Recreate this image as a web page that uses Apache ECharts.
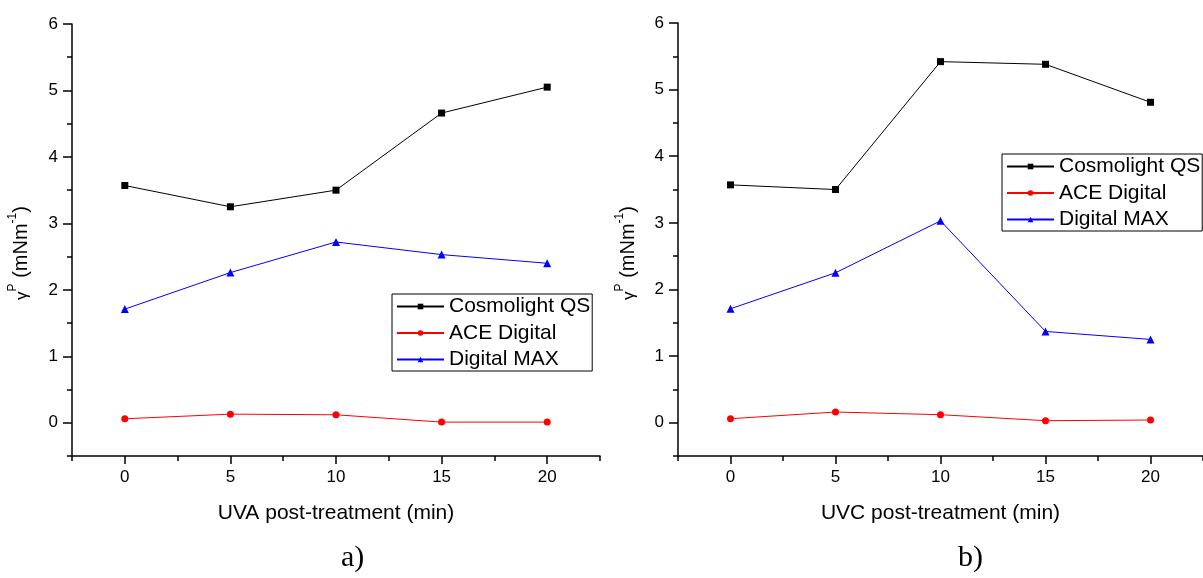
<!DOCTYPE html>
<html>
<head>
<meta charset="utf-8">
<script src="https://cdn.jsdelivr.net/npm/echarts@6/dist/echarts.min.js"></script>
<style>
html,body{margin:0;padding:0;background:#fff;}
#chart{width:1203px;height:578px;}
</style>
</head>
<body>
<div id="chart"></div>
<script>
const times = [0, 5, 10, 15, 20];
const seriesNames = ['Cosmolight QS', 'ACE Digital', 'Digital MAX'];
const uvaCosmolight = [3.57, 3.25, 3.50, 4.66, 5.05];
const uvaAce = [0.06, 0.13, 0.12, 0.01, 0.01];
const uvaDigitalMax = [1.71, 2.26, 2.72, 2.53, 2.40];
const uvcCosmolight = [3.57, 3.50, 5.42, 5.38, 4.81];
const uvcAce = [0.06, 0.16, 0.12, 0.03, 0.04];
const uvcDigitalMax = [1.71, 2.25, 3.03, 1.37, 1.25];
const xMajorTicks = [0, 5, 10, 15, 20];
const xMinorTicks = [-2.5, 2.5, 7.5, 12.5, 17.5, 22.5];
const yMajorTicks = [0, 1, 2, 3, 4, 5, 6];
const yMinorTicks = [-0.5, 0.5, 1.5, 2.5, 3.5, 4.5, 5.5];
const xTitles = ['UVA post-treatment (min)', 'UVC post-treatment (min)'];
const captions = ['a)', 'b)'];

const FONT = '"Liberation Sans", Arial, sans-serif';
const chart = echarts.init(document.getElementById('chart'), null, {renderer: 'canvas'});

const rects = [
  {left: 72, top: 24, width: 528, height: 432},
  {left: 678, top: 23, width: 530, height: 433}
];
// grids 0,1: main axes (line, labels, major ticks); grids 2,3: same rectangles, minor ticks only
const grids = [0, 1, 0, 1].map(i => Object.assign({}, rects[i]));

function xMain(g, title) {
  return {
    type: 'value', gridIndex: g, position: 'bottom', min: -2.5, max: 22.5, interval: 2.5,
    name: title, nameLocation: 'middle', nameGap: 47,
    nameTextStyle: {fontFamily: FONT, fontSize: 21, color: '#000'},
    axisLine: {show: true, onZero: false, lineStyle: {color: '#000', width: 1.5}},
    axisTick: {show: true, inside: false, length: 8, customValues: xMajorTicks, lineStyle: {color: '#000', width: 1.5}},
    axisLabel: {show: true, customValues: xMajorTicks, margin: 13, fontFamily: FONT, fontSize: 17, color: '#000'},
    splitLine: {show: false}
  };
}
function xMinor(g) {
  return {
    type: 'value', gridIndex: g, position: 'bottom', min: -2.5, max: 22.5, interval: 2.5,
    axisLine: {show: false, onZero: false},
    axisTick: {show: true, inside: false, length: 5, customValues: xMinorTicks, lineStyle: {color: '#000', width: 1.5}},
    axisLabel: {show: false},
    splitLine: {show: false}
  };
}
function yMain(g) {
  return {
    type: 'value', gridIndex: g, position: 'left', min: -0.5, max: 6, interval: 0.5,
    axisLine: {show: true, onZero: false, lineStyle: {color: '#000', width: 1.5}},
    axisTick: {show: true, inside: false, length: 9, customValues: yMajorTicks, lineStyle: {color: '#000', width: 1.5}},
    axisLabel: {show: true, customValues: yMajorTicks, margin: 14, fontFamily: FONT, fontSize: 17, color: '#000'},
    splitLine: {show: false}
  };
}
function yMinor(g) {
  return {
    type: 'value', gridIndex: g, position: 'left', min: -0.5, max: 6, interval: 0.5,
    axisLine: {show: false, onZero: false},
    axisTick: {show: true, inside: false, length: 5, customValues: yMinorTicks, lineStyle: {color: '#000', width: 1.5}},
    axisLabel: {show: false},
    splitLine: {show: false}
  };
}

const styles = [
  {color: '#000000', symbol: 'rect', symbolSize: 7},
  {color: '#ff0000', symbol: 'circle', symbolSize: 7},
  {color: '#0000ff', symbol: 'triangle', symbolSize: 8}
];
const panelData = [
  [uvaCosmolight, uvaAce, uvaDigitalMax],
  [uvcCosmolight, uvcAce, uvcDigitalMax]
];

const series = [];
panelData.forEach((panel, p) => {
  panel.forEach((vals, i) => {
    series.push({
      type: 'line', name: seriesNames[i],
      xAxisIndex: p, yAxisIndex: p,
      data: times.map((t, k) => [t, vals[k]]),
      symbol: styles[i].symbol, symbolSize: styles[i].symbolSize, showSymbol: true,
      itemStyle: {color: styles[i].color},
      lineStyle: {color: styles[i].color, width: 1},
      emphasis: {disabled: true},
      animation: false, z: 3 - i
    });
  });
});

function legend(left, top) {
  return {
    orient: 'vertical', left: left, top: top,
    data: seriesNames,
    itemWidth: 47, itemHeight: 7, itemGap: 5.5,
    padding: [2, 2, 1, 4],
    borderColor: '#000', borderWidth: 1, backgroundColor: '#fff',
    textStyle: {fontFamily: FONT, fontSize: 21, color: '#000'},
    selectedMode: false
  };
}

const yTitleRich = {
  g: {fontFamily: FONT, fontSize: 17, fill: '#000', lineHeight: 24, verticalAlign: 'bottom'},
  t: {fontFamily: FONT, fontSize: 20, fill: '#000', lineHeight: 24, verticalAlign: 'bottom'},
  sup: {fontFamily: FONT, fontSize: 12, fill: '#000', lineHeight: 24, verticalAlign: 'top'}
};
const yTitleText = '{g|γ}{sup|P}{t| (mNm}{sup|-1}{t|)}';

chart.setOption({
  backgroundColor: '#fff',
  animation: false,
  grid: grids,
  xAxis: [xMain(0, xTitles[0]), xMain(1, xTitles[1]), xMinor(2), xMinor(3)],
  yAxis: [yMain(0), yMain(1), yMinor(2), yMinor(3)],
  legend: [legend(392, 294), legend(1002, 154)],
  series: series,
  graphic: [
    {type: 'text', x: 19, y: 253, rotation: Math.PI / 2, style: {text: yTitleText, rich: yTitleRich, align: 'center', verticalAlign: 'middle'}},
    {type: 'text', x: 626, y: 253, rotation: Math.PI / 2, style: {text: yTitleText, rich: yTitleRich, align: 'center', verticalAlign: 'middle'}},
    {type: 'text', left: 341, top: 543, style: {text: captions[0], font: '30px "Liberation Serif", "Times New Roman", serif', fill: '#000'}},
    {type: 'text', left: 958, top: 543, style: {text: captions[1], font: '30px "Liberation Serif", "Times New Roman", serif', fill: '#000'}}
  ]
});
</script>
</body>
</html>
